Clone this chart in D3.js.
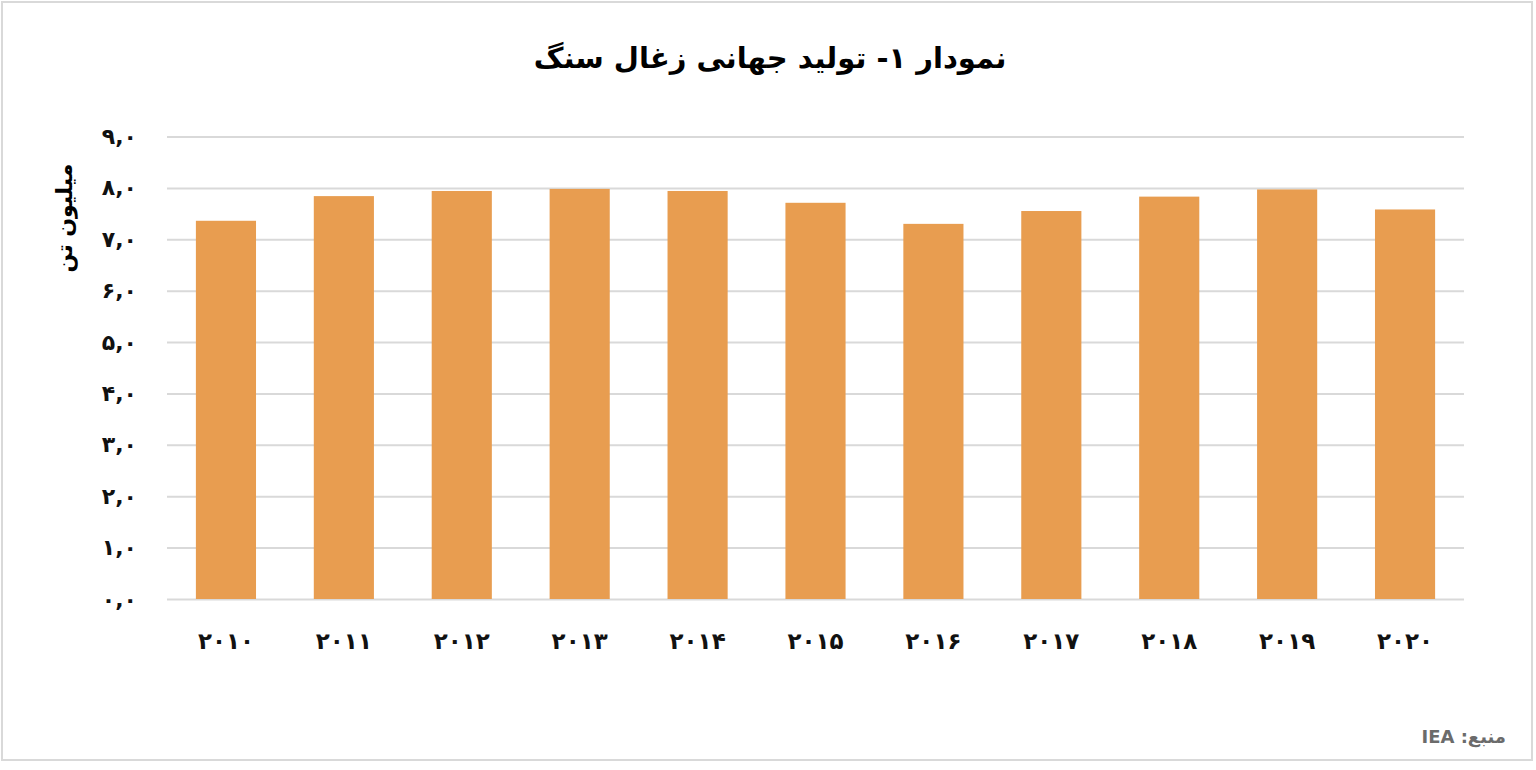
<!DOCTYPE html>
<html><head><meta charset="utf-8">
<script src="https://cdn.jsdelivr.net/npm/d3@7"></script>
<style>html,body{margin:0;padding:0;background:#fff;}svg{display:block;}</style>
</head><body>
<svg id="c" width="1536" height="770"></svg>
<script>
const years = ["۲۰۱۰","۲۰۱۱","۲۰۱۲","۲۰۱۳","۲۰۱۴","۲۰۱۵","۲۰۱۶","۲۰۱۷","۲۰۱۸","۲۰۱۹","۲۰۲۰"];
const production = [7.36, 7.84, 7.94, 7.98, 7.94, 7.71, 7.30, 7.55, 7.83, 7.97, 7.58];
const yTicks = [0,1,2,3,4,5,6,7,8,9];
const yTickLabels = ["۰,۰","۱,۰","۲,۰","۳,۰","۴,۰","۵,۰","۶,۰","۷,۰","۸,۰","۹,۰"];
const titleText = "نمودار ۱- تولید جهانی زغال سنگ";
const yAxisTitle = "میلیون تن";
const sourceText = "منبع: IEA";

(function(){
const svg = d3.select("#c");
const font = "'DejaVu Sans', sans-serif";

svg.append("rect").attr("x",2).attr("y",2).attr("width",1530).attr("height",758)
  .attr("fill","#fff").attr("stroke","#d9d9d9").attr("stroke-width",2);

const pL = 167, pR = 1464, pT = 136.5, pB = 599;
const x = d3.scaleBand().domain(years).range([pL,pR]).paddingInner(0.49).paddingOuter(0.245);
const y = d3.scaleLinear().domain([0,9]).range([pB,pT]);

const yAxis = d3.axisLeft(y).tickValues(yTicks).tickSize(-(pR-pL)).tickFormat((d,i)=>yTickLabels[i]);
const gy = svg.append("g").attr("transform",`translate(${pL},0)`).call(yAxis);
gy.select(".domain").remove();
gy.selectAll(".tick line").attr("stroke","#d9d9d9").attr("stroke-width",2);
gy.selectAll(".tick text").attr("x",-30).attr("font-family",font).attr("font-weight","bold")
  .attr("font-size",22).attr("fill","#111").attr("direction","ltr");

svg.append("g").selectAll("rect").data(production).join("rect")
  .attr("x",(d,i)=>x(years[i])).attr("width",x.bandwidth())
  .attr("y",d=>y(d)).attr("height",d=>y(0)-y(d))
  .attr("fill","#E89D50");

const xAxis = d3.axisBottom(x).tickSize(0).tickPadding(0);
const gx = svg.append("g").attr("transform",`translate(0,${pB})`).call(xAxis);
gx.select(".domain").remove();
gx.selectAll(".tick text").attr("y",43).attr("dy","0").attr("dominant-baseline","middle")
  .attr("font-family",font).attr("font-weight","bold").attr("font-size",23).attr("fill","#111");

svg.append("text").attr("x",770).attr("y",60).attr("text-anchor","middle").attr("dominant-baseline","middle")
  .attr("font-family",font).attr("font-weight","bold").attr("font-size",29).attr("fill","#000")
  .attr("direction","rtl").text(titleText);

svg.append("text").attr("transform","translate(66,218) rotate(-90)").attr("text-anchor","middle")
  .attr("dominant-baseline","middle").attr("font-family",font).attr("font-weight","bold")
  .attr("font-size",22).attr("fill","#000").text(yAxisTitle);

svg.append("text").attr("x",1506).attr("y",738).attr("text-anchor","start").attr("dominant-baseline","middle")
  .attr("font-family",font).attr("font-weight","bold").attr("font-size",18).attr("fill","#6b6b6b")
  .attr("direction","rtl").text(sourceText);
})();
</script>
</body></html>
